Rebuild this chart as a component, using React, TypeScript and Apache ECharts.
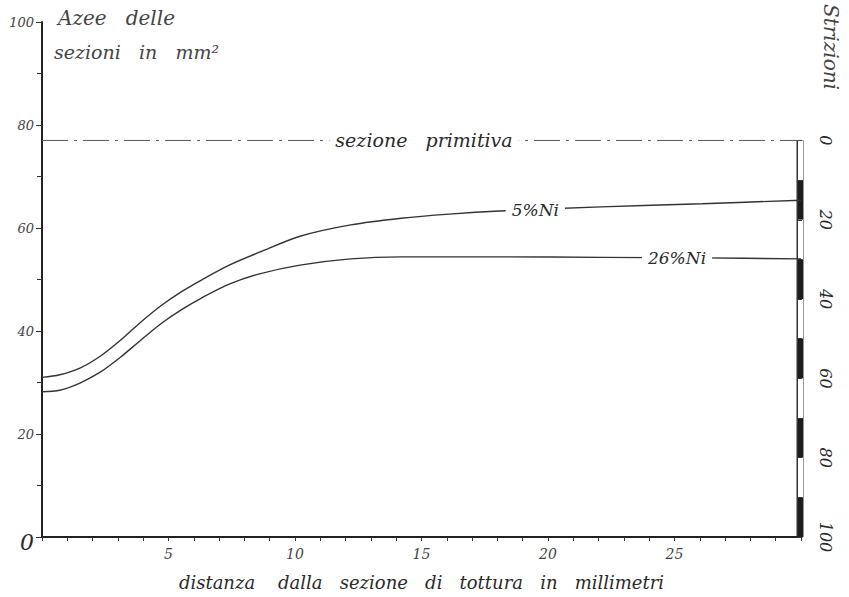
import React, { useEffect, useRef } from "react";
import * as echarts from "echarts";

// distance from the fracture section (mm)
const distanceMm = [0, 0.7, 1.5, 2.3, 3.1, 3.9, 4.7, 5.5, 6.3, 7.4, 8.6, 10.2, 12.2, 14.2, 16.1, 18.1, 22.1, 26.1, 30];
// section areas in mm² for 5% Ni steel
const ni5 = [31.0, 31.5, 32.8, 35.1, 38.2, 41.7, 44.9, 47.6, 49.9, 52.8, 55.3, 58.4, 60.6, 61.9, 62.7, 63.3, 64.1, 64.7, 65.4];
// section areas in mm² for 26% Ni steel
const ni26 = [28.2, 28.5, 29.9, 32.0, 34.9, 38.2, 41.4, 44.1, 46.4, 49.1, 51.1, 52.8, 54.0, 54.4, 54.4, 54.4, 54.3, 54.2, 54.0];
// original section area
const primitiveSection = 77;
const primitiveRange = [0, 30];

const xTicks = [5, 10, 15, 20, 25];
const strictionTicks = [0, 20, 40, 60, 80, 100];

const labels = {
  ni5: { text: "5%Ni", at: 19.5 },
  ni26: { text: "26%Ni", at: 25.1 },
  primitive: { text: "sezione   primitiva", at: 15.1 },
};

const FONT = "'DejaVu Serif', 'Liberation Serif', serif";
const INK = "#2a2a2a";

export default function App() {
  const ref = useRef<HTMLDivElement>(null);

  useEffect(() => {
    if (!ref.current) return;
    const chart = echarts.init(ref.current, null, { renderer: "svg" });

    const gridTop = 22;
    const gridBottom = 60;
    const plotH = 597 - gridTop - gridBottom;
    const primY = 597 - gridBottom - (primitiveSection / 100) * plotH;

    const lineLabel = (text: string, x: number, y: number, size = 17) => ({
      coord: [x, y],
      symbol: "circle",
      symbolSize: 0,
      label: {
        show: true,
        position: "inside",
        formatter: text,
        backgroundColor: "#ffffff",
        padding: [0, 6],
        color: INK,
        fontFamily: FONT,
        fontStyle: "italic",
        fontSize: size,
      },
    });

    const interp = (xs: number[], ys: number[], x: number) => {
      for (let i = 0; i < xs.length - 1; i++) {
        if (x >= xs[i] && x <= xs[i + 1]) {
          const t = (x - xs[i]) / (xs[i + 1] - xs[i]);
          return ys[i] + t * (ys[i + 1] - ys[i]);
        }
      }
      return ys[ys.length - 1];
    };

    chart.setOption({
      animation: false,
      backgroundColor: "#ffffff",
      grid: [
        { left: 42, right: 48, top: gridTop, bottom: gridBottom },
        {
          left: 797,
          width: 6,
          top: primY,
          bottom: gridBottom,
          show: true,
          borderColor: "#333",
          borderWidth: 1,
          backgroundColor: "transparent",
        },
      ],
      xAxis: [
        {
          type: "value",
          gridIndex: 0,
          min: 0,
          max: 30,
          interval: 5,
          name: "distanza    dalla   sezione   di   tottura   in   millimetri",
          nameLocation: "middle",
          nameGap: 36,
          nameTextStyle: { fontFamily: FONT, fontStyle: "italic", fontSize: 18, color: INK },
          axisLine: { show: true, onZero: false, lineStyle: { color: "#222", width: 2 } },
          axisTick: { show: true, inside: false, length: 4, lineStyle: { color: "#333" } },
          minorTick: { show: true, splitNumber: 5, length: 4, lineStyle: { color: "#333" } },
          splitLine: { show: false },
          axisLabel: {
            margin: 10,
            fontFamily: FONT,
            fontStyle: "italic",
            fontSize: 14,
            color: "#444",
            formatter: (v: number) => (xTicks.includes(v) ? String(v) : ""),
          },
        },
        {
          type: "value",
          gridIndex: 1,
          min: 0,
          max: 1,
          show: false,
        },
      ],
      yAxis: [
        {
          type: "value",
          gridIndex: 0,
          min: 0,
          max: 100,
          interval: 20,
          axisLine: { show: true, lineStyle: { color: "#222", width: 2 } },
          axisTick: { show: true, inside: false, length: 6, lineStyle: { color: "#333" } },
          minorTick: { show: true, splitNumber: 2, length: 5, lineStyle: { color: "#333" } },
          splitLine: { show: false },
          axisLabel: {
            margin: 8,
            fontFamily: FONT,
            fontStyle: "italic",
            fontSize: 13,
            color: "#444",
            formatter: (v: number) => (v === 0 ? "{z|0}" : String(v)),
            rich: {
              z: { fontFamily: FONT, fontStyle: "italic", fontSize: 22, color: INK, padding: [10, 0, 0, 0] },
            },
          },
        },
        {
          type: "value",
          gridIndex: 1,
          position: "right",
          inverse: true,
          min: 0,
          max: 100,
          interval: 10,
          axisLine: { show: true, lineStyle: { color: "#333", width: 1 } },
          axisTick: { show: true, inside: false, length: 5, lineStyle: { color: "#333" } },
          splitLine: { show: false },
          splitArea: { show: true, areaStyle: { color: ["#ffffff", "#1c1c1c"] } },
          axisLabel: {
            margin: 14,
            rotate: -90,
            fontFamily: FONT,
            fontStyle: "italic",
            fontSize: 16,
            color: INK,
            formatter: (v: number) => (strictionTicks.includes(v) ? String(v) : ""),
          },
        },
      ],
      series: [
        {
          type: "line",
          name: "primitiva",
          xAxisIndex: 0,
          yAxisIndex: 0,
          data: primitiveRange.map((x) => [x, primitiveSection]),
          symbol: "none",
          lineStyle: { color: "#555", width: 1, type: [26, 6, 3, 6] },
          markPoint: {
            data: [lineLabel(labels.primitive.text, labels.primitive.at, primitiveSection, 19)],
          },
          z: 2,
        },
        {
          type: "line",
          name: "5% Ni",
          xAxisIndex: 0,
          yAxisIndex: 0,
          data: distanceMm.map((x, i) => [x, ni5[i]]),
          symbol: "none",
          smooth: 0.3,
          lineStyle: { color: "#333", width: 1.4 },
          markPoint: {
            data: [lineLabel(labels.ni5.text, labels.ni5.at, interp(distanceMm, ni5, labels.ni5.at))],
          },
          z: 3,
        },
        {
          type: "line",
          name: "26% Ni",
          xAxisIndex: 0,
          yAxisIndex: 0,
          data: distanceMm.map((x, i) => [x, ni26[i]]),
          symbol: "none",
          smooth: 0.3,
          lineStyle: { color: "#333", width: 1.4 },
          markPoint: {
            data: [lineLabel(labels.ni26.text, labels.ni26.at, interp(distanceMm, ni26, labels.ni26.at))],
          },
          z: 3,
        },
      ],
      graphic: [
        {
          type: "text",
          left: 58,
          top: 8,
          style: {
            text: "Azee   delle",
            fontFamily: FONT,
            fontStyle: "italic",
            fontSize: 20,
            fill: "#444",
          },
        },
        {
          type: "text",
          left: 54,
          top: 42,
          style: {
            text: "sezioni   in   mm²",
            fontFamily: FONT,
            fontStyle: "italic",
            fontSize: 19,
            fill: "#444",
          },
        },
        {
          type: "text",
          x: 831,
          y: 4,
          rotation: -Math.PI / 2,
          style: {
            text: "Strizioni",
            fontFamily: FONT,
            fontStyle: "italic",
            fontSize: 20,
            fill: "#444",
            align: "left",
            verticalAlign: "middle",
          },
        },
      ],
    });

    return () => chart.dispose();
  }, []);

  return (
    <div
      ref={ref}
      style={{ position: "fixed", left: 0, top: 0, width: 849, height: 597, background: "#fff" }}
    />
  );
}
